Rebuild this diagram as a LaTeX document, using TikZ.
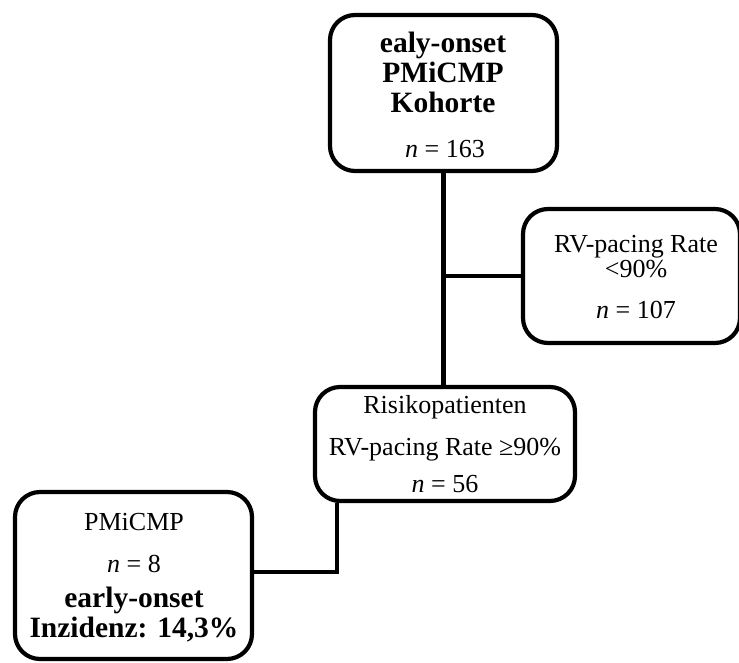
\documentclass[tikz,border=0pt]{standalone}
\usepackage{fontspec}
\setmainfont{Liberation Serif}
\begin{document}
\begin{tikzpicture}[x=1pt,y=-1pt,
  box/.style={draw=black,line width=4.2pt,rounded corners=25pt,fill=white,inner sep=0pt},
  link/.style={draw=black,line width=4.2pt},
  reg/.style={anchor=base,inner sep=0pt,font=\fontsize{26}{30}\selectfont},
  hd/.style={anchor=base,inner sep=0pt,font=\fontsize{29.5}{33}\selectfont\bfseries}]
\useasboundingbox (0,0) rectangle (739,662);

% boxes
\node[box,minimum width=227pt,minimum height=156pt] (top) at (443.5,93) {};
\node[box,minimum width=217pt,minimum height=134pt] (lt90) at (631.5,276) {};
\node[box,minimum width=260pt,minimum height=114pt] (risk) at (445,444) {};
\node[box,minimum width=237pt,minimum height=167pt] (pmi) at (133.5,575.5) {};

% connectors
\draw[link] (top.south) -- (top.south |- risk.north);
\draw[link] (lt90.west) -- (lt90.west -| top.south);
\coordinate (riskout) at ([xshift=24pt]risk.south west);
\draw[link] (riskout) |- ([yshift=3.5pt]pmi.east);

% text of the cohort box
\node[hd] (c1) at (443,52) {ealy-onset};
\node[hd] (c2) at (443,82) {PMiCMP};
\node[hd] (c3) at (443,112) {Kohorte};
\node[reg] (c4) at (445,157) {\textit{n} = 163};

% text of the <90% box
\node[reg] (r1) at (636,252) {RV-pacing Rate};
\node[reg] (r2) at (636,277) {<90\%};
\node[reg] (r3) at (636,318) {\textit{n} = 107};

% text of the risk box
\node[reg] (m1) at (445,413) {Risikopatienten};
\node[reg] (m2) at (445,455) {RV-pacing Rate ≥90\%};
\node[reg] (m3) at (445,492) {\textit{n} = 56};

% text of the PMiCMP box
\node[reg] (p1) at (134,530) {PMiCMP};
\node[reg] (p2) at (134,572) {\textit{n} = 8};
\node[hd] (p3) at (134,607) {early-onset};
\node[hd] (p4) at (134,637) {Inzidenz: 14,3\%};
\end{tikzpicture}
\end{document}
